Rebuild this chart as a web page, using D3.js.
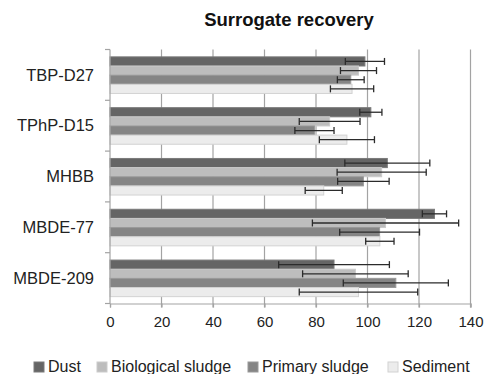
<!DOCTYPE html>
<html>
<head>
<meta charset="utf-8">
<script src="https://cdn.jsdelivr.net/npm/d3@7"></script>
<style>
body { margin: 0; background: #fff; }
svg { font-family: "Liberation Sans", Arial, sans-serif; }
</style>
</head>
<body>
<script>
var categories = ["TBP-D27", "TPhP-D15", "MHBB", "MBDE-77", "MBDE-209"];
var seriesNames = ["Dust", "Biological sludge", "Primary sludge", "Sediment"];
var xTicks = [0, 20, 40, 60, 80, 100, 120, 140];

// recovery (%) per category, one array per series
var dust = [99, 101.3, 107.7, 126, 87];
var bioSludge = [96.5, 85.3, 105.5, 107, 95.3];
var primarySludge = [93.5, 79.4, 98.4, 104.7, 111];
var sediment = [94, 92, 83, 104.8, 96.5];

// error bar half widths
var dustErr = [7.6, 4.3, 16.5, 4.7, 21.5];
var bioSludgeErr = [7, 11.8, 17.3, 28.4, 20.5];
var primarySludgeErr = [5.2, 7.6, 10, 15.5, 20.4];
var sedimentErr = [8.4, 10.7, 7.2, 5.5, 23];

var fills = ["#656565", "#bdbdbd", "#858585", "#ececec"];
var strokes = ["#7a7a7a", "#cbcbcb", "#999999", "#d2d2d2"];

function drawChart() {
	var width = 487, height = 374;
	var left = 110, right = 470.5, top = 49.5, bottom = 303.5;

	var svg = d3.select("body").append("svg")
		.attr("width", width)
		.attr("height", height);

	var values = [dust, bioSludge, primarySludge, sediment];
	var errs = [dustErr, bioSludgeErr, primarySludgeErr, sedimentErr];

	var rows = [];
	categories.forEach(function (c, i) {
		seriesNames.forEach(function (s, j) {
			rows.push({ cat: c, series: s, idx: j, value: values[j][i], err: errs[j][i] });
		});
	});

	var x = d3.scaleLinear().domain([0, 140]).range([left, right]);
	var y0 = d3.scaleBand().domain(categories).range([top, bottom]);
	var bw = y0.bandwidth();
	var y1 = d3.scaleBand().domain(seriesNames).range([bw * 0.145, bw * 0.865]);

	// gridlines
	svg.append("g").selectAll("line")
		.data(xTicks.slice(1))
		.enter().append("line")
		.attr("x1", function (d) { return x(d); })
		.attr("x2", function (d) { return x(d); })
		.attr("y1", top)
		.attr("y2", bottom + 4)
		.attr("stroke", "#a3a3a3")
		.attr("stroke-width", 1.2);

	// bars
	svg.append("g").selectAll("rect")
		.data(rows)
		.enter().append("rect")
		.attr("x", x(0))
		.attr("y", function (d) { return y0(d.cat) + y1(d.series); })
		.attr("width", function (d) { return x(d.value) - x(0); })
		.attr("height", y1.bandwidth())
		.attr("fill", function (d) { return fills[d.idx]; })
		.attr("stroke", function (d) { return strokes[d.idx]; })
		.attr("stroke-width", 1);

	// error bars
	var eb = svg.append("g")
		.attr("stroke", "#2b2b2b")
		.attr("stroke-width", 1.3);
	rows.forEach(function (d) {
		var cy = y0(d.cat) + y1(d.series) + y1.bandwidth() / 2;
		var x1 = x(d.value - d.err), x2 = x(d.value + d.err);
		eb.append("line").attr("x1", x1).attr("x2", x2).attr("y1", cy).attr("y2", cy);
		eb.append("line").attr("x1", x1).attr("x2", x1).attr("y1", cy - 3.5).attr("y2", cy + 3.5);
		eb.append("line").attr("x1", x2).attr("x2", x2).attr("y1", cy - 3.5).attr("y2", cy + 3.5);
	});

	// x axis
	var xAxis = svg.append("g")
		.attr("transform", "translate(0," + bottom + ")")
		.call(d3.axisBottom(x).tickValues(xTicks).tickSize(4).tickPadding(9));
	xAxis.select(".domain").attr("stroke", "#a3a3a3").attr("stroke-width", 1.2);
	xAxis.selectAll(".tick line").attr("stroke", "#a3a3a3").attr("stroke-width", 1.2);
	xAxis.selectAll("text")
		.attr("font-size", "15px")
		.attr("fill", "#222")
		.attr("font-family", "Liberation Sans, Arial, sans-serif");

	// y axis line with ticks at band edges
	var yA = svg.append("g");
	yA.append("line")
		.attr("x1", left).attr("x2", left)
		.attr("y1", top).attr("y2", bottom)
		.attr("stroke", "#a3a3a3").attr("stroke-width", 1.2);
	yA.selectAll(".edge")
		.data(categories.concat([null]))
		.enter().append("line")
		.attr("class", "edge")
		.attr("x1", left - 5).attr("x2", left)
		.attr("y1", function (d) { return d ? y0(d) : bottom; })
		.attr("y2", function (d) { return d ? y0(d) : bottom; })
		.attr("stroke", "#a3a3a3").attr("stroke-width", 1.2);
	yA.selectAll("text")
		.data(categories)
		.enter().append("text")
		.attr("x", 94)
		.attr("y", function (d) { return y0(d) + bw / 2; })
		.attr("dy", ".35em")
		.attr("text-anchor", "end")
		.attr("font-size", "16.5px")
		.attr("fill", "#222")
		.text(function (d) { return d; });

	// title
	svg.append("text")
		.attr("x", 289)
		.attr("y", 26)
		.attr("text-anchor", "middle")
		.attr("font-size", "18.5px")
		.attr("font-weight", "bold")
		.attr("fill", "#111")
		.text("Surrogate recovery");

	// legend
	var legendX = [34, 97, 248, 388];
	var lg = svg.append("g").selectAll("g")
		.data(seriesNames)
		.enter().append("g")
		.attr("transform", function (d, i) { return "translate(" + legendX[i] + ",362)"; });
	lg.append("rect")
		.attr("width", 10).attr("height", 10)
		.attr("fill", function (d, i) { return fills[i]; })
		.attr("stroke", function (d, i) { return strokes[i]; });
	lg.append("text")
		.attr("x", 14)
		.attr("y", 10)
		.attr("font-size", "16px")
		.attr("fill", "#222")
		.text(function (d) { return d; });
}

window.addEventListener("DOMContentLoaded", function () {
	drawChart();
}, false);
</script>
</body>
</html>
